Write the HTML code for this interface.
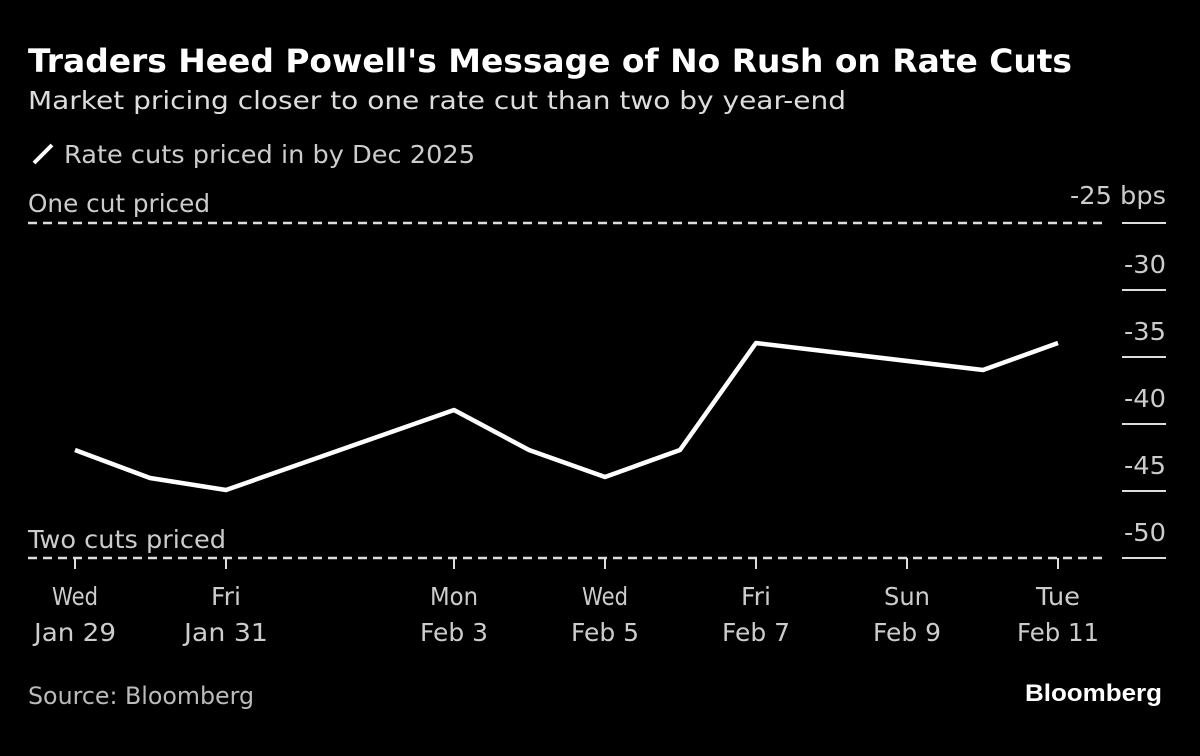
<!DOCTYPE html><html><head><style>
body{margin:0;background:#000;width:1200px;height:751px;overflow:hidden}
svg text{font-family:"DejaVu Sans","Liberation Sans",sans-serif}
</style></head><body>
<svg width="1200" height="751" xmlns="http://www.w3.org/2000/svg">
<text x="28" y="72" fill="#fff" font-size="32" font-weight="bold" textLength="1044" lengthAdjust="spacingAndGlyphs">Traders Heed Powell's Message of No Rush on Rate Cuts</text>
<text x="28" y="109" fill="#ddd" font-size="25" textLength="818" lengthAdjust="spacingAndGlyphs">Market pricing closer to one rate cut than two by year-end</text>
<line x1="34" y1="163" x2="52" y2="145" stroke="#fff" stroke-width="4"/>
<text x="64" y="163" fill="#ccc" font-size="25" textLength="411" lengthAdjust="spacingAndGlyphs">Rate cuts priced in by Dec 2025</text>
<g fill="#ccc" font-size="25">
<text x="28" y="212" textLength="182" lengthAdjust="spacingAndGlyphs">One cut priced</text>
<text x="28" y="548" textLength="198" lengthAdjust="spacingAndGlyphs">Two cuts priced</text>
<text x="1166" y="204" text-anchor="end" textLength="96" lengthAdjust="spacingAndGlyphs">-25 bps</text>
<text x="1166" y="273" text-anchor="end" textLength="42" lengthAdjust="spacingAndGlyphs">-30</text>
<text x="1166" y="340" text-anchor="end" textLength="42" lengthAdjust="spacingAndGlyphs">-35</text>
<text x="1166" y="407" text-anchor="end" textLength="42" lengthAdjust="spacingAndGlyphs">-40</text>
<text x="1166" y="474" text-anchor="end" textLength="42" lengthAdjust="spacingAndGlyphs">-45</text>
<text x="1166" y="541" text-anchor="end" textLength="42" lengthAdjust="spacingAndGlyphs">-50</text>
</g>
<g stroke="#ddd" stroke-width="2">
<line x1="1122" y1="223" x2="1166" y2="223"/><line x1="1122" y1="290" x2="1166" y2="290"/>
<line x1="1122" y1="357" x2="1166" y2="357"/><line x1="1122" y1="424" x2="1166" y2="424"/>
<line x1="1122" y1="491" x2="1166" y2="491"/><line x1="1122" y1="558" x2="1166" y2="558"/>
</g>
<g stroke="#ddd" stroke-width="2.5" stroke-dasharray="9,6">
<line x1="28" y1="223" x2="1105" y2="223"/><line x1="28" y1="558" x2="1105" y2="558"/>
</g>
<g stroke="#ddd" stroke-width="2">
<line x1="75" y1="558" x2="75" y2="569"/><line x1="226" y1="558" x2="226" y2="569"/><line x1="454" y1="558" x2="454" y2="569"/><line x1="605" y1="558" x2="605" y2="569"/><line x1="756" y1="558" x2="756" y2="569"/><line x1="907" y1="558" x2="907" y2="569"/><line x1="1058" y1="558" x2="1058" y2="569"/>
</g>
<g fill="#ccc" font-size="25" text-anchor="middle">
<text x="75" y="605" textLength="46" lengthAdjust="spacingAndGlyphs">Wed</text><text x="75" y="641" textLength="82" lengthAdjust="spacingAndGlyphs">Jan 29</text>
<text x="226" y="605" textLength="30" lengthAdjust="spacingAndGlyphs">Fri</text><text x="226" y="641" textLength="84" lengthAdjust="spacingAndGlyphs">Jan 31</text>
<text x="454" y="605" textLength="48" lengthAdjust="spacingAndGlyphs">Mon</text><text x="454" y="641" textLength="68" lengthAdjust="spacingAndGlyphs">Feb 3</text>
<text x="605" y="605" textLength="46" lengthAdjust="spacingAndGlyphs">Wed</text><text x="605" y="641" textLength="68" lengthAdjust="spacingAndGlyphs">Feb 5</text>
<text x="756" y="605" textLength="30" lengthAdjust="spacingAndGlyphs">Fri</text><text x="756" y="641" textLength="68" lengthAdjust="spacingAndGlyphs">Feb 7</text>
<text x="907" y="605" textLength="46" lengthAdjust="spacingAndGlyphs">Sun</text><text x="907" y="641" textLength="68" lengthAdjust="spacingAndGlyphs">Feb 9</text>
<text x="1058" y="605" textLength="44" lengthAdjust="spacingAndGlyphs">Tue</text><text x="1058" y="641" textLength="82" lengthAdjust="spacingAndGlyphs">Feb 11</text>
</g>
<polyline fill="none" stroke="#fff" stroke-width="4.5" stroke-linejoin="round" points="75,450 150,478 226,490 454,410 529,450 605,477 680,450 756,343 983,370 1058,343"/>
<text x="28" y="704" fill="#bbb" font-size="24" textLength="226" lengthAdjust="spacingAndGlyphs">Source: Bloomberg</text>
<text x="1162" y="701" fill="#fff" font-size="24" font-weight="bold" text-anchor="end" textLength="137" lengthAdjust="spacingAndGlyphs" style="font-family:'Liberation Sans',sans-serif">Bloomberg</text>
</svg>
</body></html>
